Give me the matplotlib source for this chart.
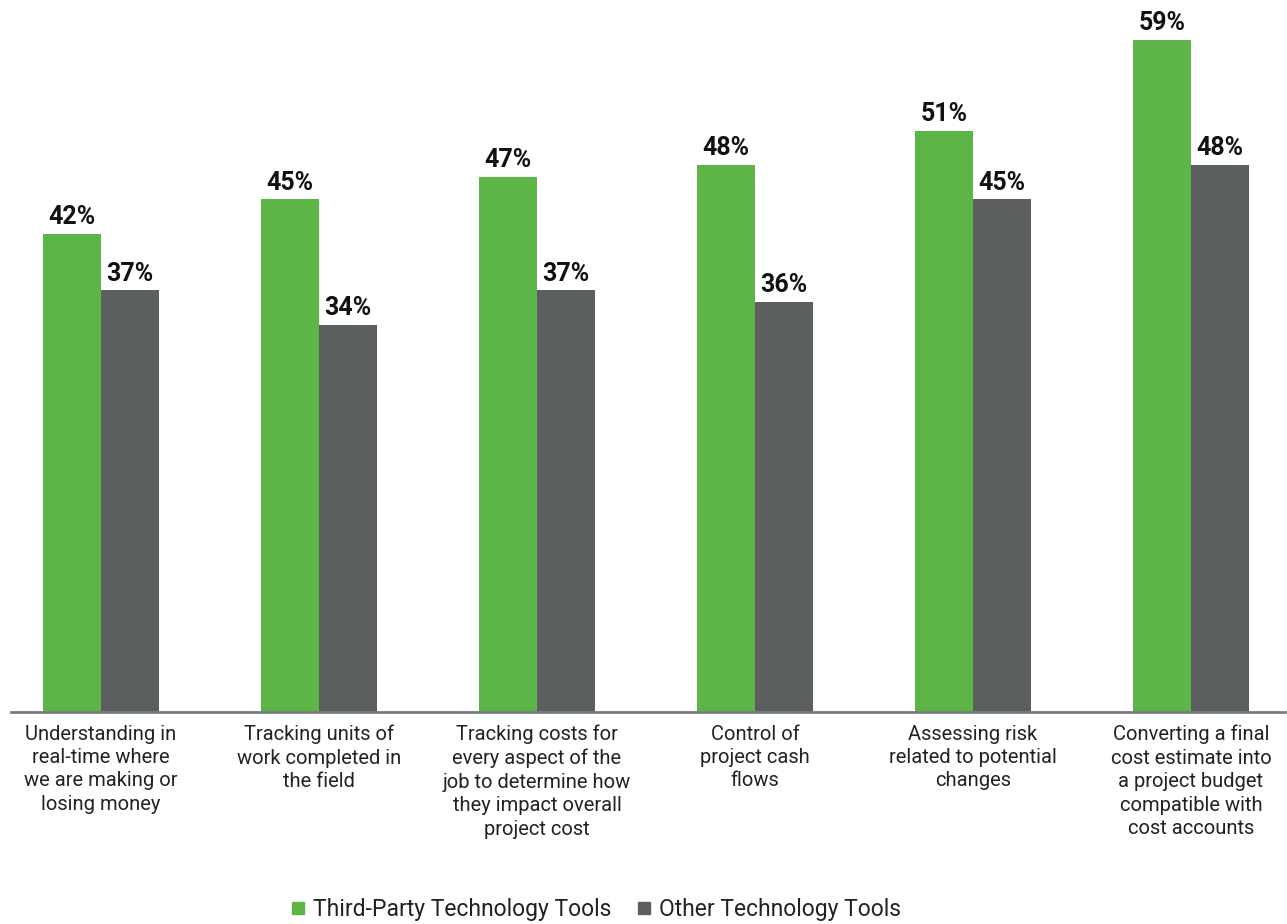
import matplotlib.pyplot as plt
from matplotlib.lines import Line2D

categories = [
    "Understanding in\nreal-time where\nwe are making or\nlosing money",
    "Tracking units of\nwork completed in\nthe field",
    "Tracking costs for\nevery aspect of the\njob to determine how\nthey impact overall\nproject cost",
    "Control of\nproject cash\nflows",
    "Assessing risk\nrelated to potential\nchanges",
    "Converting a final\ncost estimate into\na project budget\ncompatible with\ncost accounts",
]
third_party = [42, 45, 47, 48, 51, 59]
other_tools = [37, 34, 37, 36, 45, 48]
series_names = ["Third-Party Technology Tools", "Other Technology Tools"]

GREEN = "#5db447"
GRAY = "#5b5f60"

plt.rcParams["font.family"] = ["Roboto", "DejaVu Sans"]

fig = plt.figure(figsize=(12.87, 9.24), dpi=100)
ax = fig.add_axes([11 / 1287, 212 / 924, 1274 / 1287, 712 / 924])

width = 0.266
for i, (a, b) in enumerate(zip(third_party, other_tools)):
    ax.bar(i - width / 2, a, width, color=GREEN)
    ax.bar(i + width / 2, b, width, color=GRAY)
    for xpos, val in ((i - width / 2, a), (i + width / 2, b)):
        ax.annotate(f"{val}%", xy=(xpos, val), xytext=(0, 7), textcoords="offset points",
                    ha="center", va="baseline", fontsize=18, fontweight="bold",
                    color="#111111", annotation_clip=False)
    ax.annotate(categories[i], xy=(i, 0), xycoords=("data", "axes fraction"),
                xytext=(0, -9), textcoords="offset points", ha="center", va="top",
                fontsize=14.5, color="#222222", linespacing=1.3,
                annotation_clip=False)

ax.set_xlim(-90 / 218, 5 + 94 / 218)
ax.set_ylim(0, 62.5)
ax.set_xticks([])
ax.set_yticks([])
for side in ["top", "right", "left"]:
    ax.spines[side].set_visible(False)
ax.spines["bottom"].set_color("#7a7d7e")
ax.spines["bottom"].set_linewidth(2)

handles = [
    Line2D([], [], marker="s", linestyle="none", markersize=8, color=c)
    for c in (GREEN, GRAY)
]
fig.legend(handles, series_names, loc="center", bbox_to_anchor=(0.4627, 0.0155),
           ncol=2, frameon=False, fontsize=16.5, handlelength=0.7,
           handletextpad=0.3, columnspacing=1.1, labelcolor="#222222")

fig.savefig("out.png", dpi=100)
